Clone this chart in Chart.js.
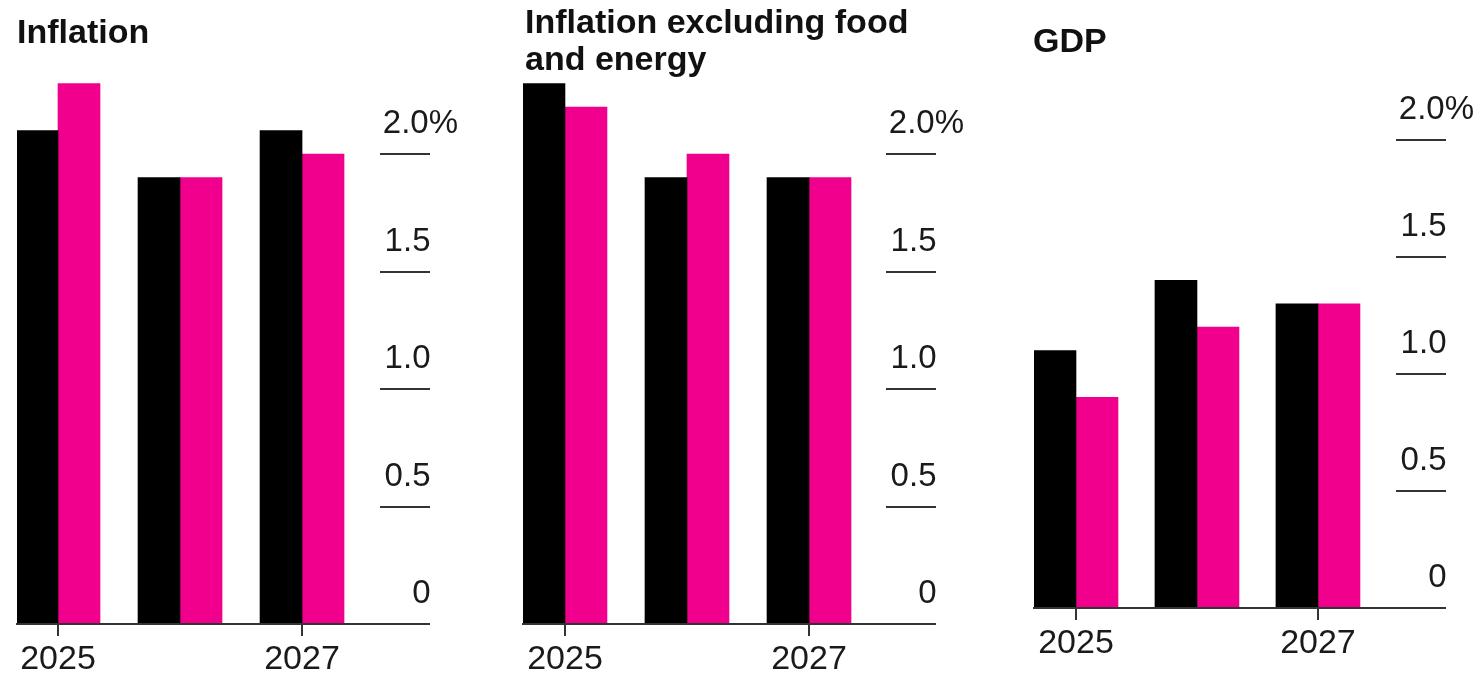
<!DOCTYPE html>
<html>
<head>
<meta charset="utf-8">
<title>Inflation, core inflation and GDP projections</title>
<script src="https://cdn.jsdelivr.net/npm/chart.js@4.4.1/dist/chart.umd.min.js"></script>
<style>
    html, body { margin: 0; padding: 0; background: #fff; }
    body {
        position: relative;
        width: 1483px;
        height: 674px;
        overflow: hidden;
        font-family: "Liberation Sans", Arial, Helvetica, sans-serif;
        color: #111;
    }
    .panel { position: absolute; top: 0; height: 674px; }
    .panel canvas { position: absolute; left: 0; top: 0; }
    .title {
        position: absolute;
        font-size: 34px;
        font-weight: bold;
        line-height: 37px;
        white-space: nowrap;
    }
</style>
</head>
<body>

<div class="panel" style="left:0;width:500px">
    <canvas id="inflation" width="500" height="674"></canvas>
    <div class="title" style="left:17px;top:13px">Inflation</div>
</div>

<div class="panel" style="left:500px;width:490px">
    <canvas id="core" width="490" height="674"></canvas>
    <div class="title" style="left:25px;top:3px">Inflation excluding food<br>and energy</div>
</div>

<div class="panel" style="left:990px;width:493px">
    <canvas id="gdp" width="493" height="674"></canvas>
    <div class="title" style="left:43px;top:22px">GDP</div>
</div>

<script>
const years = [2025, 2026, 2027];
const xLabelYears = [2025, 2027];
const yTicks = [0, 0.5, 1, 1.5, 2];

const inflationEarlier = [2.1, 1.9, 2.1];
const inflationLatest = [2.3, 1.9, 2.0];
const coreEarlier = [2.3, 1.9, 1.9];
const coreLatest = [2.2, 2.0, 1.9];
const gdpEarlier = [1.1, 1.4, 1.3];
const gdpLatest = [0.9, 1.2, 1.3];

const BLACK = '#000000';
const PINK = '#f0008c';
const AXIS = '#333333';
const TEXT = '#1a1a1a';
const FONT = '"Liberation Sans", Arial, Helvetica, sans-serif';

function tickText(value) {
    if (value === 2) {
        return '2.0%';
    }
    const s = value === 0 ? '0' : value.toFixed(1);
    // trailing spaces leave room for the "%" so the numbers line up under "2.0"
    return s + '   ';
}

function makePanel(id, earlier, latest, box) {
    const canvas = document.getElementById(id);
    return new Chart(canvas.getContext('2d'), {
        type: 'bar',
        data: {
            labels: years,
            datasets: [
                { label: 'Earlier', data: earlier, backgroundColor: BLACK, barThickness: 42 },
                { label: 'Latest', data: latest, backgroundColor: PINK, barThickness: 42 }
            ]
        },
        options: {
            responsive: false,
            animation: false,
            devicePixelRatio: 1,
            layout: { padding: box.padding },
            plugins: {
                legend: { display: false },
                tooltip: { enabled: false }
            },
            scales: {
                x: {
                    type: 'linear',
                    position: 'bottom',
                    min: box.xMin,
                    max: box.xMax,
                    offset: false,
                    afterBuildTicks: function (axis) {
                        axis.ticks = xLabelYears.map(function (v) { return { value: v }; });
                    },
                    afterFit: function (axis) {
                        axis.height = 50;
                        axis.paddingLeft = 0;
                        axis.paddingRight = 0;
                    },
                    border: { display: true, color: AXIS, width: 2, z: 1 },
                    grid: {
                        offset: false,
                        drawOnChartArea: false,
                        drawTicks: true,
                        tickLength: 12,
                        color: AXIS,
                        lineWidth: 2
                    },
                    ticks: {
                        padding: 7,
                        maxRotation: 0,
                        autoSkip: false,
                        color: TEXT,
                        font: { family: FONT, size: 34, lineHeight: 1 },
                        callback: function (value) { return String(value); }
                    }
                },
                y: {
                    position: 'right',
                    min: 0,
                    max: 2.5,
                    afterBuildTicks: function (axis) {
                        axis.ticks = yTicks.map(function (v) { return { value: v }; });
                    },
                    afterFit: function (axis) {
                        axis.width = 50;
                        axis.paddingTop = 0;
                        axis.paddingBottom = 0;
                    },
                    border: { display: false },
                    grid: {
                        drawOnChartArea: false,
                        drawTicks: true,
                        tickLength: 50,
                        color: AXIS,
                        lineWidth: 2
                    },
                    ticks: {
                        mirror: true,
                        padding: 78,
                        labelOffset: -30,
                        color: TEXT,
                        font: { family: FONT, size: 33, lineHeight: 1 },
                        callback: tickText
                    }
                }
            }
        }
    });
}

makePanel('inflation', inflationEarlier, inflationLatest, {
    padding: { left: 17, right: 70, top: 36.5, bottom: 0 },
    xMin: 2024.664, xMax: 2027.639
});

makePanel('core', coreEarlier, coreLatest, {
    padding: { left: 23, right: 54, top: 36.5, bottom: 0 },
    xMin: 2024.656, xMax: 2027.631
});

makePanel('gdp', gdpEarlier, gdpLatest, {
    padding: { left: 44, right: 37, top: 23, bottom: 16 },
    xMin: 2024.653, xMax: 2027.645
});
</script>
</body>
</html>
